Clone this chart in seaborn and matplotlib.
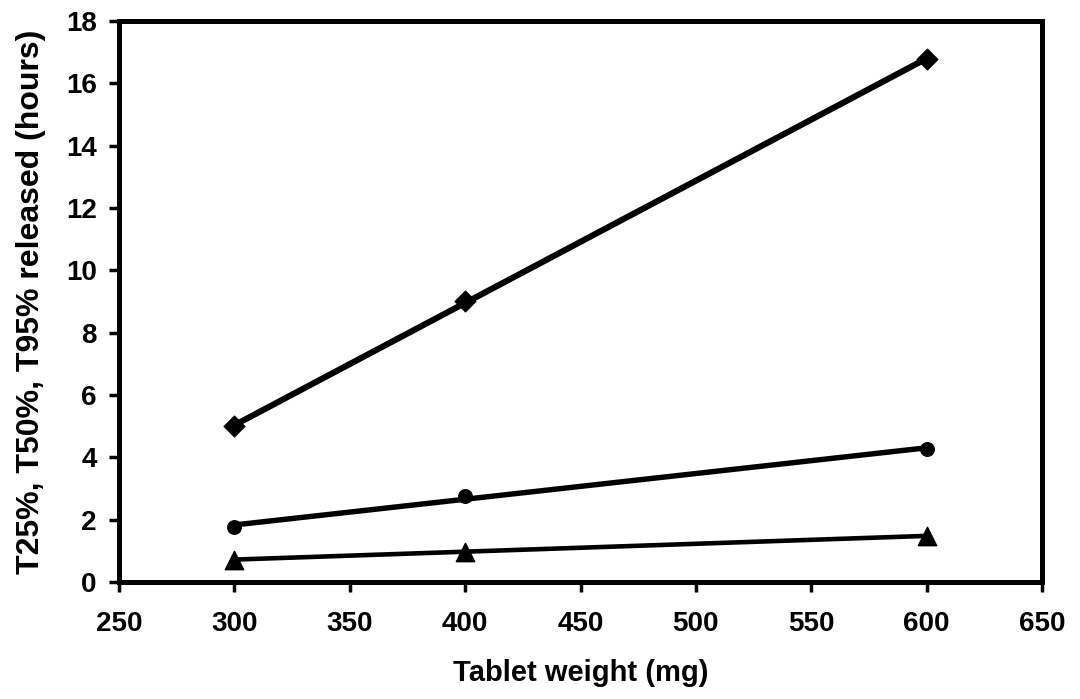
import matplotlib
matplotlib.use("Agg")
import matplotlib.pyplot as plt
import seaborn as sns
import pandas as pd

# Release times (hours) against tablet weight (mg)
tablet_weight = [300, 400, 600]
t95_hours = [5.0, 9.0, 16.78]
t50_hours = [1.76, 2.76, 4.27]
t25_hours = [0.72, 0.97, 1.48]

x_ticks = [250, 300, 350, 400, 450, 500, 550, 600, 650]
y_ticks = [0, 2, 4, 6, 8, 10, 12, 14, 16, 18]

sns.set_theme(style="white")
plt.rcParams["font.family"] = ["Liberation Sans", "DejaVu Sans"]
plt.rcParams["font.weight"] = "bold"

df = pd.DataFrame({
    "weight": tablet_weight,
    "T95": t95_hours,
    "T50": t50_hours,
    "T25": t25_hours,
})

fig = plt.figure(figsize=(10.8, 6.99), dpi=100)
ax = fig.add_axes([0.1102, 0.1674, 0.8546, 0.8026])

series = [
    ("T95", "D", 110, 4.4),
    ("T50", "o", 95, 3.9),
    ("T25", "^", 175, 3.3),
]
for col, marker, size, lw in series:
    sns.regplot(
        data=df, x="weight", y=col, ax=ax, ci=None, color="black",
        marker=marker,
        scatter_kws={"s": size, "edgecolors": "black", "linewidths": 1, "alpha": 1, "zorder": 3},
        line_kws={"lw": lw, "solid_capstyle": "butt", "zorder": 2},
    )

ax.set_xlim(250, 650)
ax.set_ylim(0, 18)
ax.set_xticks(x_ticks)
ax.set_yticks(y_ticks)
ax.tick_params(axis="both", direction="out", length=7, width=2.5, color="black",
               labelsize=20, labelcolor="black", bottom=True, left=True)
ax.tick_params(axis="x", pad=14)
ax.tick_params(axis="y", pad=9)
for lab in ax.get_xticklabels() + ax.get_yticklabels():
    lab.set_fontweight("bold")

for sp in ax.spines.values():
    sp.set_visible(True)
    sp.set_color("black")
    sp.set_linewidth(3.6)

ax.set_xlabel("Tablet weight (mg)", fontsize=21, fontweight="bold", color="black", labelpad=16)
ax.set_ylabel("T25%, T50%, T95% released (hours)", fontsize=23, fontweight="bold",
              color="black", labelpad=14)

fig.savefig("out.png", dpi=100, facecolor="white")
